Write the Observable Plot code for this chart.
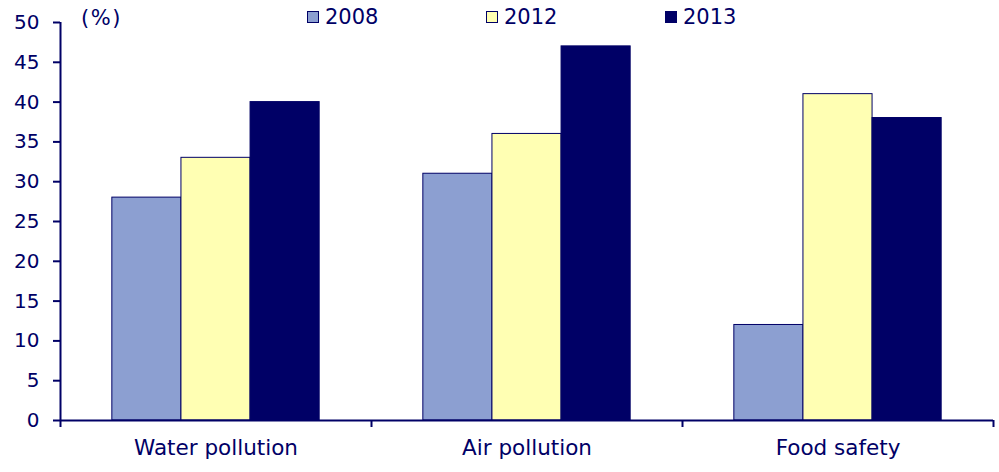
<!DOCTYPE html>
<html>
<head>
<meta charset="utf-8">
<script src="https://cdn.jsdelivr.net/npm/d3@7"></script>
<script src="https://cdn.jsdelivr.net/npm/@observablehq/plot@0.6"></script>
<style>
  body { margin: 0; background: #fff; }
  #chart { position: relative; width: 999px; height: 472px; font-family: "DejaVu Sans", Verdana, sans-serif; color: #000066; }
  #chart svg { position: absolute; left: 0; top: 0; }
  .unit { position: absolute; left: 81px; top: 6px; font-size: 21px; letter-spacing: 1.5px; }
  .legend { position: absolute; left: 307px; top: 5px; display: flex; font-size: 21px; }
  .legend .item { width: 179px; display: flex; align-items: center; }
  .legend .sw { width: 10px; height: 10px; border: 1px solid #000066; margin-right: 6px; }
</style>
</head>
<body>
<div id="chart"></div>
<script>
const categories = ["Water pollution", "Air pollution", "Food safety"];
const years = ["2008", "2012", "2013"];
const values2008 = [28, 31, 12];
const values2012 = [33, 36, 41];
const values2013 = [40, 47, 38];
const yTicks = [0, 5, 10, 15, 20, 25, 30, 35, 40, 45, 50];
const yearColors = ["#8c9fd1", "#ffffb3", "#000066"];
const unitLabel = "(%)";

const navy = "#000066";
const series = [values2008, values2012, values2013];

// Each category occupies one unit on a linear x scale; the three year bars
// sit in the middle two thirds of that unit.
const groupPad = 1 / 6;
const barWidth = 2 / 9;

const rows = [];
categories.forEach((category, i) => {
  years.forEach((year, j) => {
    const x1 = i + groupPad + j * barWidth;
    rows.push({category, year, value: series[j][i], x1, x2: x1 + barWidth});
  });
});

const plot = Plot.plot({
  width: 999,
  height: 472,
  marginLeft: 60,
  marginRight: 6,
  marginTop: 22,
  marginBottom: 52,
  style: {fontFamily: "DejaVu Sans, Verdana, sans-serif", color: navy, background: "transparent"},
  x: {domain: [0, categories.length], axis: null},
  y: {domain: [0, 50], axis: null},
  color: {domain: years, range: yearColors},
  marks: [
    Plot.rectY(rows, {
      x1: "x1", x2: "x2", y: "value",
      fill: "year", stroke: navy, strokeWidth: 1
    }),
    Plot.ruleX([0], {y1: 0, y2: 50, stroke: navy, strokeWidth: 2}),
    Plot.ruleY([0], {stroke: navy, strokeWidth: 2}),
    Plot.axisY({
      ticks: yTicks, tickSize: 7, tickPadding: 14,
      fontSize: 20, stroke: navy, fill: navy, strokeWidth: 2, label: null
    }),
    Plot.axisX({
      ticks: d3.range(categories.length + 1), tickSize: 7,
      tickFormat: () => "", stroke: navy, strokeWidth: 2, label: null
    }),
    Plot.axisX({
      ticks: categories.map((c, i) => i + 0.5), tickSize: 0, tickPadding: 19,
      tickFormat: d => categories[Math.floor(d)],
      fontSize: 21.5, fill: navy, label: null
    })
  ]
});

const chart = document.getElementById("chart");
chart.appendChild(plot);

const unit = document.createElement("div");
unit.className = "unit";
unit.textContent = unitLabel;
chart.appendChild(unit);

const legend = document.createElement("div");
legend.className = "legend";
years.forEach((year, j) => {
  const item = document.createElement("div");
  item.className = "item";
  const sw = document.createElement("span");
  sw.className = "sw";
  sw.style.background = yearColors[j];
  const label = document.createElement("span");
  label.textContent = year;
  item.appendChild(sw);
  item.appendChild(label);
  legend.appendChild(item);
});
chart.appendChild(legend);
</script>
</body>
</html>
